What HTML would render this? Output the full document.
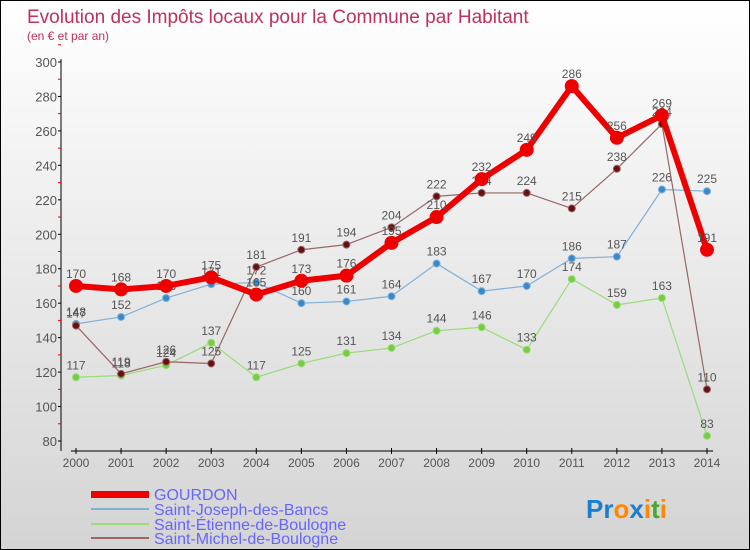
<!DOCTYPE html>
<html><head><meta charset="utf-8"><style>
body{margin:0}
#wrap{width:750px;height:550px;position:relative;box-sizing:border-box;border:1px solid #000;background:linear-gradient(#ffffff,#d4d4d4);font-family:"Liberation Sans",sans-serif;overflow:hidden}
svg text{font-family:"Liberation Sans",sans-serif}
</style></head><body>
<div id="wrap">
<svg id="chart" width="750" height="550">
<text x="26" y="22" font-size="19" fill="#c0305a">Evolution des Impôts locaux pour la Commune par Habitant</text>
<text x="26" y="39" font-size="12" fill="#c0305a">(en € et par an)</text>
<g id="axes"></g><g id="series"></g>
<g>
<rect x="90" y="490" width="58" height="7" fill="#ee0000"/>
<text x="153" y="499" font-size="16" fill="#6666ff">GOURDON</text>
<rect x="90" y="507" width="58" height="2" fill="#7fb0d8"/>
<text x="153" y="514" font-size="16" fill="#6666ff">Saint-Joseph-des-Bancs</text>
<rect x="90" y="522" width="58" height="2" fill="#99dd77"/>
<text x="153" y="529" font-size="16" fill="#6666ff">Saint-Étienne-de-Boulogne</text>
<rect x="90" y="536" width="58" height="2" fill="#996666"/>
<text x="153" y="543" font-size="16" fill="#6666ff">Saint-Michel-de-Boulogne</text>
</g>
<text x="585" y="517" font-size="26" font-weight="bold"><tspan fill="#1a7fd0">Pr</tspan><tspan fill="#ff8800">o</tspan><tspan fill="#1a7fd0">x</tspan><tspan fill="#ff8800">i</tspan><tspan fill="#44aa33">t</tspan><tspan fill="#ff8800">i</tspan></text>
</svg>
</div>
<script>
const years=[2000,2001,2002,2003,2004,2005,2006,2007,2008,2009,2010,2011,2012,2013,2014];
const yTicks=[80,100,120,140,160,180,200,220,240,260,280,300];
const gourdon=[170,168,170,175,165,173,176,195,210,232,249,286,256,269,191];
const joseph=[148,152,163,171,172,160,161,164,183,167,170,186,187,226,225];
const etienne=[117,118,124,137,117,125,131,134,144,146,133,174,159,163,83];
const michel=[147,119,126,125,181,191,194,204,222,224,224,215,238,264,110];
const NS="http://www.w3.org/2000/svg";
const xS=i=>75+i*(706-75)/(years.length-1);
const yS=v=>440-(v-80)*(440-61)/220;
function mk(t,a,p){const e=document.createElementNS(NS,t);for(const k in a)e.setAttribute(k,a[k]);p.appendChild(e);return e;}
const ax=document.getElementById('axes');
const yl=mk('line',{x1:60,y1:58,x2:60,y2:450,stroke:'#000'},ax);


const xl=mk('line',{x1:70,y1:450,x2:712,y2:450,stroke:'#000'},ax);


yTicks.forEach(v=>{
 mk('line',{x1:57,x2:60,y1:yS(v),y2:yS(v),stroke:'#000'},ax);
 mk('line',{x1:57,x2:60,y1:yS(v+10),y2:yS(v+10),stroke:'#e00'},ax);
 const t=mk('text',{x:56,y:yS(v)+5,'font-size':13,'text-anchor':'end',fill:'#555'},ax);t.textContent=v;
 
 
});
years.forEach((y,i)=>{
 mk('line',{x1:xS(i),x2:xS(i),y1:447,y2:453,stroke:'#000'},ax);
 const t=mk('text',{x:xS(i),y:466,'font-size':12,'text-anchor':'middle',fill:'#555'},ax);t.textContent=y;
 
 
});
const sg=document.getElementById('series');
function draw(data,col,w,r,dot,name){
 const g=mk('g',{},sg);
 
 
 mk('polyline',{points:data.map((v,i)=>xS(i)+','+yS(v)).join(' '),fill:'none',stroke:col,'stroke-width':w,'stroke-linejoin':'round'},g);
 data.forEach((v,i)=>{
  const c=mk('circle',{cx:xS(i),cy:yS(v),r:r,fill:dot,stroke:col,'stroke-width':w>3?0:1},g);
  
  
  const t=mk('text',{x:xS(i),y:yS(v)-8,'font-size':12,'text-anchor':'middle',fill:'#555'},g);t.textContent=v;
  
  
 });
}
draw(etienne,'#99dd77',1.2,3.5,'#77cc44','series-saint-etienne');
draw(joseph,'#7fb0d8',1.2,3.5,'#3a88cc','series-saint-joseph');
draw(michel,'#996666',1.2,3.5,'#661111','series-saint-michel');
draw(gourdon,'#ee0000',6,7,'#ee0000','series-gourdon');
</script>
</body></html>
